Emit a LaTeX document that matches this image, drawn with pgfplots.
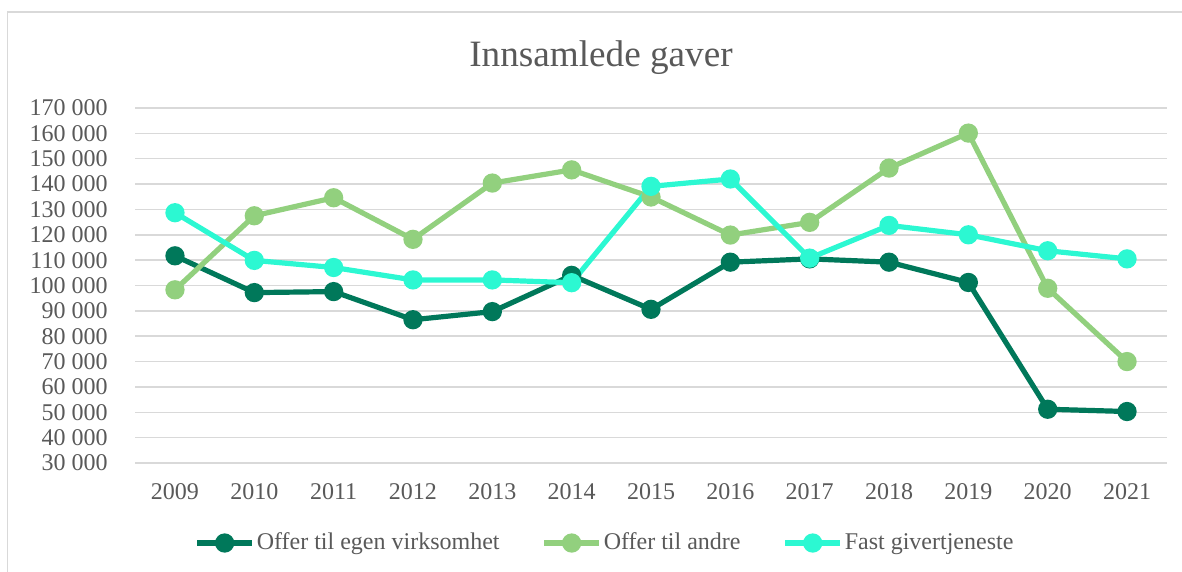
\documentclass[border=0pt]{standalone}
\usepackage{pgfplots}
\pgfplotsset{compat=1.18}
\usepackage{fontspec}
\setmainfont{Liberation Serif}
\definecolor{darkg}{RGB}{0,120,90}
\definecolor{lightg}{RGB}{146,208,126}
\definecolor{cyang}{RGB}{44,248,210}
\definecolor{txtgray}{RGB}{89,89,89}
\definecolor{gridgray}{RGB}{217,217,217}
\begin{document}
\begin{tikzpicture}
\useasboundingbox (0,0) rectangle (591bp,286bp);
\draw[gridgray, line width=0.75bp] (3.65bp,-2bp) -- (3.65bp,280bp) -- (593bp,280bp);
\node[anchor=base, text=txtgray, font=\fontsize{18.6bp}{22bp}\selectfont] at (300.5bp,252.65bp) {Innsamlede gaver};
\begin{axis}[
  at={(67.65bp,54.5bp)}, anchor=south west,
  scale only axis, width=515.7bp, height=177.5bp,
  xmin=-0.5, xmax=12.5, ymin=30000, ymax=170000,
  xtick={0,...,12},
  xticklabels={2009,2010,2011,2012,2013,2014,2015,2016,2017,2018,2019,2020,2021},
  ytick={30000,40000,50000,60000,70000,80000,90000,100000,110000,120000,130000,140000,150000,160000,170000},
  yticklabels={30 000,40 000,50 000,60 000,70 000,80 000,90 000,100 000,110 000,120 000,130 000,140 000,150 000,160 000,170 000},
  axis lines*=left,
  axis line style={draw=none},
  major tick length=0pt,
  ymajorgrids,
  grid style={color=gridgray, line width=0.75bp},
  scaled y ticks=false,
  tick label style={font=\fontsize{12bp}{14bp}\selectfont, text=txtgray, inner sep=0pt},
  yticklabel style={anchor=east, xshift=-13.65bp},
  xticklabel style={anchor=north, yshift=-9.85bp},
  legend columns=3,
  legend style={at={(0.4554,-0.2254)}, anchor=center, draw=none, fill=none,
    font=\fontsize{12bp}{14bp}\selectfont, text=txtgray,
    nodes={inner sep=1bp},
    /tikz/every even column/.append style={column sep=20bp}},
  legend image code/.code={\draw[mark repeat=2, mark phase=2] plot coordinates {(0bp,0bp) (13.75bp,0bp) (27.5bp,0bp)};},
  every axis plot/.append style={line width=2.6bp, mark=*, mark size=3.5bp},
]
\addplot[darkg, mark options={fill=darkg, draw=none}] coordinates {
(0,111700) (1,97200) (2,97600) (3,86500) (4,89700) (5,104000) (6,90600) (7,109200) (8,110500) (9,109200) (10,101200) (11,51200) (12,50300)};
\addlegendentry{Offer til egen virksomhet}
\addplot[lightg, mark options={fill=lightg, draw=none}] coordinates {
(0,98300) (1,127500) (2,134600) (3,118200) (4,140400) (5,145600) (6,134900) (7,119900) (8,124900) (9,146300) (10,160100) (11,98900) (12,70000)};
\addlegendentry{Offer til andre}
\addplot[cyang, mark options={fill=cyang, draw=none}] coordinates {
(0,128700) (1,109900) (2,107100) (3,102200) (4,102200) (5,101100) (6,139100) (7,142000) (8,110800) (9,123700) (10,120000) (11,113700) (12,110500)};
\addlegendentry{Fast givertjeneste}
\end{axis}
\end{tikzpicture}
\end{document}
